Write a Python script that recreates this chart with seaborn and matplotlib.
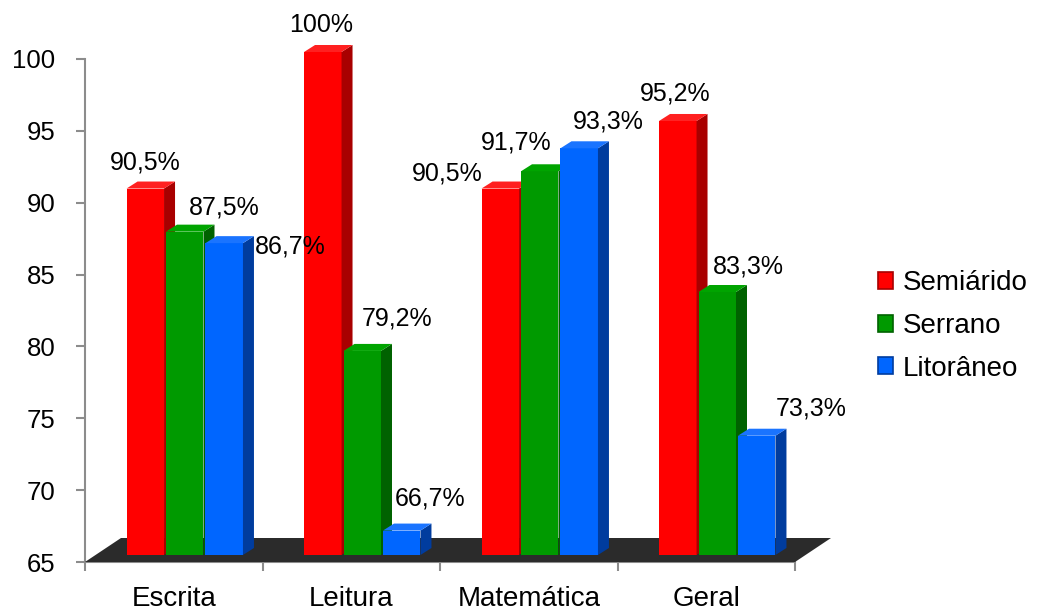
import numpy as np
import pandas as pd
import matplotlib
matplotlib.use("Agg")
import matplotlib.pyplot as plt
import matplotlib.transforms as mtransforms
from matplotlib.patches import Polygon, Patch
import seaborn as sns

# ---- data -------------------------------------------------------------
categories = ["Escrita", "Leitura", "Matemática", "Geral"]
regions = ["Semiárido", "Serrano", "Litorâneo"]
semiarido = [90.5, 100.0, 90.5, 95.2]
serrano = [87.5, 79.2, 91.7, 83.3]
litoraneo = [86.7, 66.7, 93.3, 73.3]
y_ticks = [65, 70, 75, 80, 85, 90, 95, 100]

df = pd.DataFrame({
    "categoria": categories * 3,
    "regiao": np.repeat(regions, len(categories)),
    "valor": semiarido + serrano + litoraneo,
})

# ---- style ------------------------------------------------------------
front = {"Semiárido": "#FF0000", "Serrano": "#009A00", "Litorâneo": "#0066FF"}
side = {"Semiárido": "#A80000", "Serrano": "#006200", "Litorâneo": "#003C9E"}
top = {"Semiárido": "#FF2020", "Serrano": "#00A400", "Litorâneo": "#1A74FF"}
axis_grey = "#8C8C8C"

# label offsets (pixels) from the top-centre of each bar's front face,
# grouped per category in region order
label_offsets = [
    [(0, 26), (40, 24), (66, -3)],
    [(-2, 27), (35, 32), (28, 32)],
    [(-53, 15), (-24, 29), (29, 27)],
    [(-3, 27), (31, 26), (54, 27)],
]

sns.set_theme(style="white")
plt.rcParams["font.family"] = ["Liberation Sans", "DejaVu Sans"]
plt.rcParams["text.color"] = "black"

fig = plt.figure(figsize=(10.38, 6.15), dpi=100)
ax = fig.add_axes([85 / 1038, 53 / 615, 710 / 1038, 503 / 615])

sns.barplot(data=df, x="categoria", y="valor", hue="regiao",
            order=categories, hue_order=regions, palette=front,
            width=0.667, gap=0.05, saturation=1, errorbar=None,
            legend=False, ax=ax)

ax.set_xlim(-0.5, 3.5)
ax.set_ylim(65, 100)

# pixel -> data scale for the 3D depth effect
p0 = ax.transData.transform((0, 65))
p1 = ax.transData.transform((1, 66))
px_x, px_y = p1[0] - p0[0], p1[1] - p0[1]

# bars sit a little behind the front edge of the floor
bar_trans = mtransforms.offset_copy(ax.transData, fig=fig, x=11, y=7, units="dots")
ddx, ddy = 11 / px_x, 7 / px_y

# floor
fdx, fdy = 36 / px_x, 24 / px_y
floor = Polygon([(-0.5, 65), (3.5, 65), (3.5 + fdx, 65 + fdy), (-0.5 + fdx, 65 + fdy)],
                closed=True, facecolor="#2B2B2B", edgecolor="none",
                zorder=2, clip_on=False)
ax.add_patch(floor)

bars = sorted(ax.patches[:-1], key=lambda p: p.get_x())
for k, bar in enumerate(bars):
    ci, ri = divmod(k, len(regions))
    reg = regions[ri]
    value = bar.get_height()
    x0 = bar.get_x()
    x1 = x0 + bar.get_width()
    bar.set_y(65)
    bar.set_height(value - 65)
    bar.set_transform(bar_trans)
    bar.set_clip_on(False)
    bar.set_edgecolor("none")
    z = 3 + 0.1 * k
    bar.set_zorder(z)

    side_face = Polygon([(x1, 65), (x1 + ddx, 65 + ddy), (x1 + ddx, value + ddy), (x1, value)],
                        closed=True, facecolor=side[reg], edgecolor="none",
                        transform=bar_trans, zorder=z + 0.05, clip_on=False)
    top_face = Polygon([(x0, value), (x1, value), (x1 + ddx, value + ddy), (x0 + ddx, value + ddy)],
                       closed=True, facecolor=top[reg], edgecolor="none",
                       transform=bar_trans, zorder=z + 0.05, clip_on=False)
    ax.add_patch(side_face)
    ax.add_patch(top_face)

    txt = (f"{value:.1f}".replace(".", ",").replace(",0", "")) + "%"
    dx, dy = label_offsets[ci][ri]
    ax.annotate(txt, xy=((x0 + x1) / 2, value), xycoords=bar_trans,
                xytext=(dx, dy), textcoords="offset pixels",
                ha="center", va="center", fontsize=18, color="black",
                zorder=10, annotation_clip=False)

ax.set_xlim(-0.5, 3.5)
ax.set_ylim(65, 100)

# axes styling
ax.set_xlabel("")
ax.set_ylabel("")
for s in ["top", "right"]:
    ax.spines[s].set_visible(False)
for s in ["left", "bottom"]:
    ax.spines[s].set_color(axis_grey)
    ax.spines[s].set_linewidth(1.5)
    ax.spines[s].set_zorder(1.5)

ax.set_yticks(y_ticks)
ax.set_yticklabels([str(t) for t in y_ticks])
ax.tick_params(axis="y", direction="out", length=6.5, width=1.5, color=axis_grey,
               labelsize=18.5, labelcolor="black", pad=15, left=True)
ax.set_xticks(range(len(categories)))
ax.set_xticklabels(categories)
ax.set_xticks(np.arange(-0.5, len(categories), 1.0), minor=True)
ax.tick_params(axis="x", which="major", length=0, labelsize=20, labelcolor="black", pad=17.5)
ax.tick_params(axis="x", which="minor", direction="out", length=6.5, width=1.5,
               color=axis_grey, bottom=True)

handles = [Patch(facecolor=front[r], edgecolor=side[r], linewidth=1.2) for r in regions]
leg = ax.legend(handles, regions, loc="center left",
                bbox_to_anchor=(878 / 1038, 1 - 326 / 615), bbox_transform=fig.transFigure,
                frameon=False, fontsize=20, handlelength=0.55, handleheight=0.55,
                handletextpad=0.35, labelspacing=0.6, borderpad=0, borderaxespad=0)
for t in leg.get_texts():
    t.set_color("black")

fig.savefig("out.png", dpi=100)
